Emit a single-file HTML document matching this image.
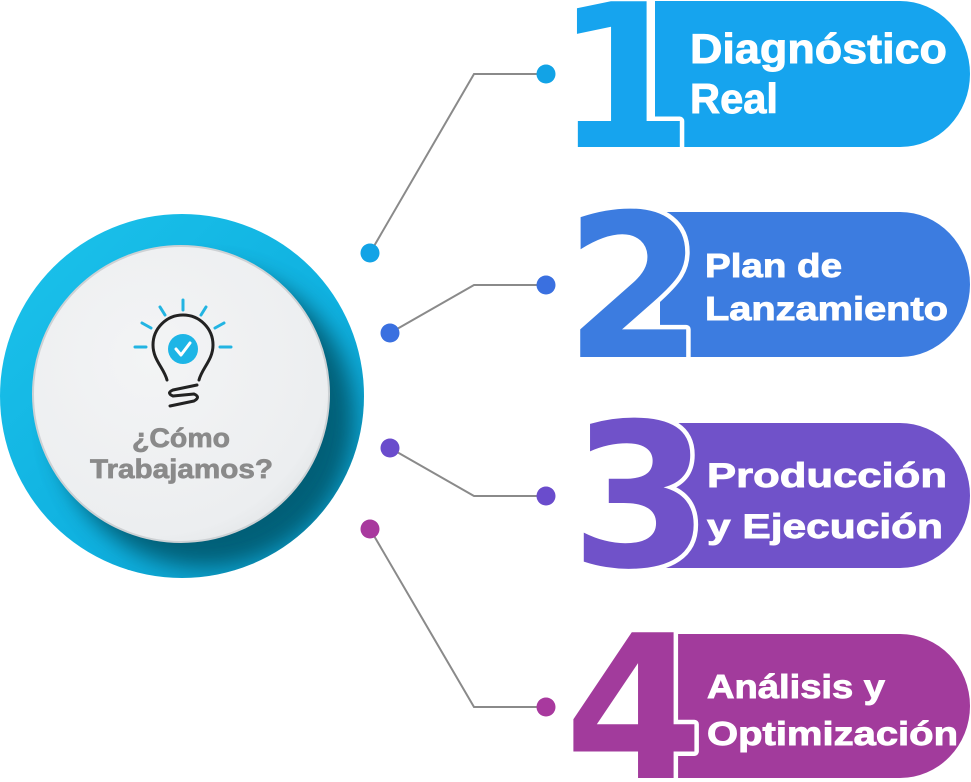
<!DOCTYPE html>
<html>
<head>
<meta charset="utf-8">
<style>
html,body{margin:0;padding:0;background:#fff;overflow:hidden;width:971px;height:782px;}
svg{display:block;overflow:hidden;}
</style>
</head>
<body>
<svg width="971" height="782" viewBox="0 0 971 782" xmlns="http://www.w3.org/2000/svg">
  <defs>
    <linearGradient id="cyan" x1="0" y1="0" x2="1" y2="1">
      <stop offset="0" stop-color="#1cc3ec"/>
      <stop offset="0.6" stop-color="#0fb0df"/>
      <stop offset="1" stop-color="#0a93bd"/>
    </linearGradient>
    <radialGradient id="disk" cx="0.4" cy="0.38" r="0.7">
      <stop offset="0" stop-color="#f3f4f5"/>
      <stop offset="0.85" stop-color="#eceef0"/>
      <stop offset="1" stop-color="#e2e5e7"/>
    </radialGradient>
    <filter id="blur" x="-30%" y="-30%" width="160%" height="160%">
      <feGaussianBlur stdDeviation="11"/>
    </filter>
    <clipPath id="outerClip">
      <circle cx="182" cy="396" r="182"/>
    </clipPath>
    <clipPath id="frame">
      <rect x="0" y="0" width="971" height="782"/>
    </clipPath>
  </defs>

  <g clip-path="url(#frame)">
  <!-- central circle -->
  <circle cx="182" cy="396" r="182" fill="url(#cyan)"/>
  <g clip-path="url(#outerClip)">
    <circle cx="204" cy="417" r="150" fill="#04566c" opacity="0.88" filter="url(#blur)"/>
  </g>
  <circle cx="181" cy="394" r="148" fill="url(#disk)" stroke="#cdd1d4" stroke-width="2"/>

  <!-- bulb icon -->
  <g stroke="#22b4e2" stroke-width="3" stroke-linecap="round" fill="none">
    <line x1="183" y1="300" x2="183" y2="310"/>
    <line x1="160" y1="307" x2="165" y2="315"/>
    <line x1="206" y1="307" x2="201" y2="315"/>
    <line x1="142" y1="323" x2="151" y2="328"/>
    <line x1="224" y1="323" x2="215" y2="328"/>
    <line x1="135" y1="347" x2="146" y2="347"/>
    <line x1="220" y1="347" x2="231" y2="347"/>
  </g>
  <path d="M 167 380 C 164 368, 153 360, 153 345 A 30 30 0 1 1 213 345 C 213 360, 202 368, 199 380" stroke="#222" stroke-width="3" fill="none" stroke-linecap="round"/>
  <path d="M 197 385 L 173 390 Q 166 393 173 396 L 194 394 Q 201 397 194 401 L 170 406" stroke="#222" stroke-width="3" fill="none" stroke-linecap="round" stroke-linejoin="round"/>
  <circle cx="183" cy="349" r="15" fill="#1db5e6"/>
  <path d="M 176 349 L 181 355 L 190 343" stroke="#fff" stroke-width="3" fill="none" stroke-linecap="round" stroke-linejoin="round"/>

  <g font-family="'Liberation Sans', sans-serif" font-weight="bold" fill="#8a8a8a" stroke="#8a8a8a" stroke-width="0.7" font-size="27">
    <text x="132" y="447" textLength="98" lengthAdjust="spacingAndGlyphs">¿Cómo</text>
    <text x="90" y="478" textLength="183" lengthAdjust="spacingAndGlyphs">Trabajamos?</text>
  </g>

  <!-- connectors -->
  <g stroke="#8a8a8a" stroke-width="2" fill="none">
    <polyline points="370,253 474,74 546,74"/>
    <polyline points="390,333 474,285 546,285"/>
    <polyline points="390,448 474,496 546,496"/>
    <polyline points="370,529 474,707 546,707"/>
  </g>
  <circle cx="370" cy="253" r="9.5" fill="#12a3e6"/>
  <circle cx="546" cy="74" r="9.5" fill="#12a3e6"/>
  <circle cx="390" cy="333" r="9.5" fill="#3a70e0"/>
  <circle cx="546" cy="285" r="9.5" fill="#3a70e0"/>
  <circle cx="390" cy="448" r="9.5" fill="#6a4ccc"/>
  <circle cx="546" cy="496" r="9.5" fill="#6a4ccc"/>
  <circle cx="370" cy="529" r="9.5" fill="#a8399e"/>
  <circle cx="546" cy="707" r="9.5" fill="#a8399e"/>

  <!-- pills -->
  <path d="M 655 1 H 900 A 70 73 0 0 1 900 147 H 655 Z" fill="#16a4ee"/>
  <path d="M 660 212 H 900 A 70 72.5 0 0 1 900 357 H 660 Z" fill="#3c7ce0"/>
  <path d="M 660 423 H 900 A 70 72.5 0 0 1 900 568 H 660 Z" fill="#7052c9"/>
  <path d="M 660 634 H 900 A 70 72 0 0 1 900 778 H 660 Z" fill="#a23b9c"/>

  <!-- digits -->
  <g font-family="'DejaVu Sans', sans-serif" font-weight="bold" font-size="200" text-anchor="middle" stroke="#fff" stroke-width="9" paint-order="stroke" stroke-linejoin="round">
    <text x="624" y="147" fill="#16a4ee">1</text>
    <text x="634" y="357" fill="#3c7ce0">2</text>
    <text x="640" y="566" fill="#7052c9">3</text>
    <text x="634" y="778" fill="#a23b9c">4</text>
  </g>

  <!-- pill texts -->
  <g font-family="'Liberation Sans', sans-serif" font-weight="bold" fill="#fff" stroke="#fff" stroke-width="0.9">
    <text x="690" y="63" font-size="42" textLength="257" lengthAdjust="spacingAndGlyphs">Diagnóstico</text>
    <text x="690" y="113" font-size="42" textLength="88" lengthAdjust="spacingAndGlyphs">Real</text>

    <text x="705" y="277" font-size="33" textLength="137" lengthAdjust="spacingAndGlyphs">Plan de</text>
    <text x="705" y="320" font-size="33" textLength="243" lengthAdjust="spacingAndGlyphs">Lanzamiento</text>

    <text x="707" y="487" font-size="34" textLength="240" lengthAdjust="spacingAndGlyphs">Producción</text>
    <text x="707" y="538" font-size="34" textLength="236" lengthAdjust="spacingAndGlyphs">y Ejecución</text>

    <text x="707" y="698" font-size="33" textLength="178" lengthAdjust="spacingAndGlyphs">Análisis y</text>
    <text x="707" y="745" font-size="33" textLength="251" lengthAdjust="spacingAndGlyphs">Optimización</text>
  </g>
  </g>
</svg>
</body>
</html>
